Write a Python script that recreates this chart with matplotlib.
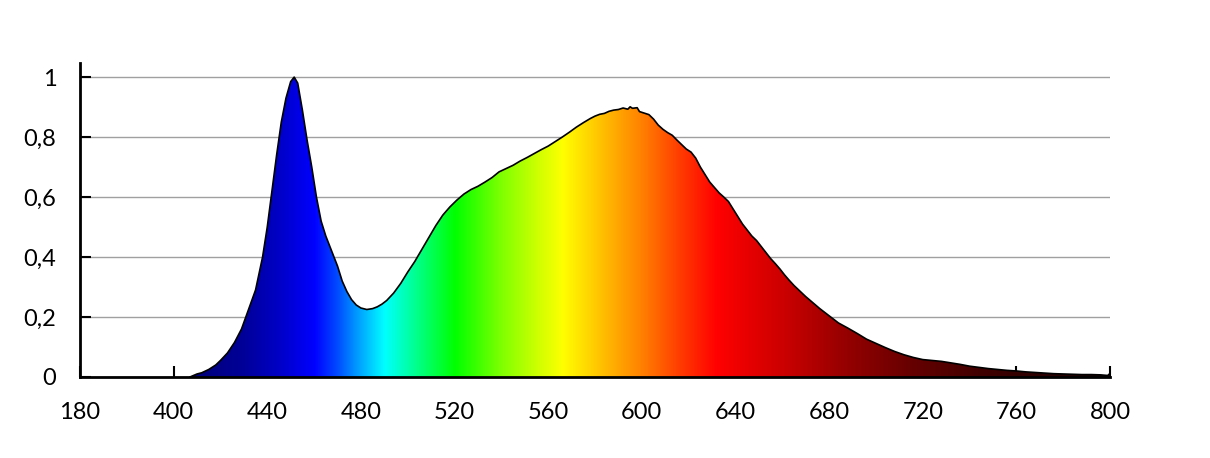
import numpy as np
import matplotlib

matplotlib.use("Agg")
import matplotlib.pyplot as plt
from matplotlib.patches import Polygon

# Spektrum aflæst fra referencen (nm, relativ intensitet)
wavelength = [
    407, 410, 412, 415, 418, 420, 423, 426, 429, 432, 435, 438, 440, 442, 444,
    446, 448, 450, 451.5, 453, 455, 457, 459, 461, 463, 465, 467.5, 470, 472,
    474, 476, 478, 480, 482.5, 485, 487, 489, 491, 494, 497, 500, 503, 506,
    509, 512, 515, 518, 521, 524, 527, 530, 533, 536, 539, 542, 545, 548, 551,
    554, 557, 560, 563, 566, 569, 572, 575, 578, 580, 582, 584, 586, 588, 590,
    592, 594, 595, 596, 598, 599, 601, 603, 605, 607, 609, 611, 613, 615, 617,
    619, 621, 623, 625, 627, 629, 631, 633, 635, 637, 639, 641, 643, 645, 647,
    649, 651, 653, 655, 657, 659, 661, 663, 665, 667, 670, 673, 676, 680, 684,
    688, 692, 696, 700, 704, 708, 712, 716, 720, 724, 728, 732, 736, 740, 744,
    748, 752, 756, 760, 764, 768, 772, 776, 780, 784, 788, 792, 796, 799, 800,
]
intensity = [
    0.0, 0.01, 0.014, 0.025, 0.04, 0.055, 0.08, 0.115, 0.16, 0.225, 0.29, 0.40,
    0.50, 0.62, 0.74, 0.85, 0.93, 0.985, 1.0, 0.98, 0.89, 0.79, 0.70, 0.60,
    0.52, 0.47, 0.42, 0.37, 0.32, 0.285, 0.258, 0.24, 0.23, 0.225, 0.228,
    0.234, 0.243, 0.255, 0.28, 0.312, 0.35, 0.385, 0.425, 0.465, 0.505, 0.54,
    0.567, 0.59, 0.61, 0.625, 0.636, 0.65, 0.665, 0.684, 0.695, 0.706, 0.72,
    0.732, 0.745, 0.758, 0.77, 0.785, 0.80, 0.816, 0.833, 0.848, 0.862, 0.870,
    0.876, 0.879, 0.886, 0.890, 0.892, 0.897, 0.893, 0.901, 0.896, 0.898,
    0.885, 0.880, 0.875, 0.86, 0.84, 0.826, 0.815, 0.806, 0.79, 0.775, 0.76,
    0.75, 0.73, 0.70, 0.675, 0.65, 0.632, 0.614, 0.60, 0.585, 0.56, 0.535,
    0.51, 0.49, 0.47, 0.455, 0.435, 0.415, 0.395, 0.378, 0.36, 0.34, 0.322,
    0.305, 0.29, 0.268, 0.248, 0.228, 0.204, 0.18, 0.163, 0.145, 0.126, 0.112,
    0.098, 0.085, 0.074, 0.065, 0.058, 0.055, 0.052, 0.047, 0.042, 0.036,
    0.032, 0.028, 0.025, 0.022, 0.02, 0.017, 0.015, 0.013, 0.011, 0.01, 0.009,
    0.008, 0.008, 0.007, 0.005, 0.012,
]

# Farveovergang under kurven (nm -> rgb)
stop_nm = [405, 430, 445, 460, 470, 478, 490, 505, 520, 540, 555, 566, 585,
           600, 615, 632, 660, 685, 715, 745, 780, 800]
stop_rgb = [
    (0, 0, 0.45), (0, 0, 0.6), (0, 0, 0.78), (0, 0, 1), (0, 0.3, 1),
    (0, 0.6, 1), (0, 1, 1), (0, 1, 0.5), (0, 1, 0), (0.5, 1, 0), (0.8, 1, 0),
    (1, 1, 0), (1, 0.72, 0), (1, 0.5, 0), (1, 0.25, 0), (1, 0, 0),
    (0.8, 0, 0), (0.6, 0, 0), (0.4, 0, 0), (0.25, 0, 0), (0.15, 0, 0),
    (0.08, 0, 0),
]

x_ticks = [360, 400, 440, 480, 520, 560, 600, 640, 680, 720, 760, 800]
x_labels = ["180", "400", "440", "480", "520", "560", "600", "640", "680",
            "720", "760", "800"]
y_ticks = [0, 0.2, 0.4, 0.6, 0.8, 1]
y_labels = ["0", "0,2", "0,4", "0,6", "0,8", "1"]

plt.rcParams["font.family"] = ["Lato", "DejaVu Sans"]

fig = plt.figure(figsize=(12.1, 4.58), dpi=100)
ax = fig.add_axes([0.0661, 0.1769, 0.8513, 0.6855])
x_min, x_max, y_max = 360, 800, 1.047

# gradient-billede klippet til kurvens areal
grid_nm = np.linspace(x_min, x_max, 1200)
rgb = np.array(stop_rgb)
cols = np.stack([np.interp(grid_nm, stop_nm, rgb[:, i]) for i in range(3)], axis=1)
img = ax.imshow(cols[np.newaxis, :, :], extent=(x_min, x_max, 0, y_max),
                aspect="auto", interpolation="bilinear", zorder=2)

verts = [(wavelength[0], 0)] + list(zip(wavelength, intensity)) + [(wavelength[-1], 0)]
poly = Polygon(verts, closed=True, facecolor="none", edgecolor="none")
ax.add_patch(poly)
img.set_clip_path(poly)
ax.plot(wavelength, intensity, color="black", lw=1.2, zorder=3)

ax.set_xlim(x_min, x_max)
ax.set_ylim(0, y_max)
ax.set_xticks(x_ticks)
ax.set_xticklabels(x_labels)
ax.set_yticks(y_ticks)
ax.set_yticklabels(y_labels)
ax.tick_params(axis="both", direction="in", length=8, width=1.5, labelsize=17,
               color="black")
ax.tick_params(axis="x", pad=18)
ax.tick_params(axis="y", pad=17)
ax.yaxis.grid(True, color="#a0a0a0", lw=1.0, zorder=1)
ax.set_axisbelow(True)

for side in ("top", "right"):
    ax.spines[side].set_visible(False)
for side in ("left", "bottom"):
    ax.spines[side].set_linewidth(2)
    ax.spines[side].set_zorder(4)

fig.savefig("out.png", dpi=100)
plt.close(fig)
